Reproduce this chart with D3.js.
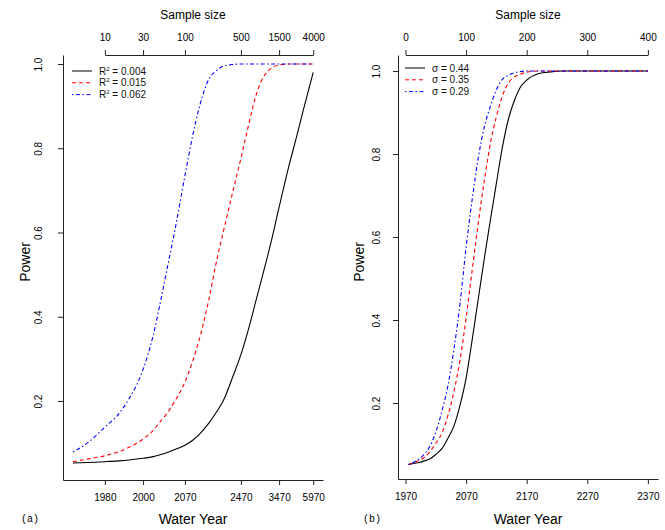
<!DOCTYPE html>
<html>
<head>
<meta charset="utf-8">
<script src="https://cdn.jsdelivr.net/npm/d3@7"></script>
<style>
  body { margin: 0; background: #fff; }
  svg { font-family: "Liberation Sans", Arial, sans-serif; }
</style>
</head>
<body>
<svg id="chart" width="665" height="530"></svg>
<script>
// panel (a): power against sample size (log axis) for three R^2 values
const sampleSizeA = [4, 6, 10, 15, 20, 30, 40, 50, 60, 75, 100, 125, 150, 200, 250, 300, 400, 500, 600, 800, 1000, 1200, 1500, 2000, 2500, 3000, 4000];
const powerR2_004 = [0.053, 0.054, 0.056, 0.058, 0.06, 0.064, 0.068, 0.073, 0.078, 0.085, 0.095, 0.107, 0.12, 0.148, 0.175, 0.2, 0.26, 0.31, 0.36, 0.45, 0.52, 0.58, 0.66, 0.76, 0.83, 0.89, 0.98];
const powerR2_015 = [0.056, 0.062, 0.07, 0.08, 0.09, 0.11, 0.13, 0.153, 0.171, 0.2, 0.245, 0.295, 0.344, 0.443, 0.535, 0.6, 0.7, 0.776, 0.842, 0.935, 0.975, 0.99, 0.998, 1, 1, 1, 1];
const powerR2_062 = [0.079, 0.1, 0.138, 0.17, 0.205, 0.275, 0.355, 0.44, 0.515, 0.606, 0.735, 0.83, 0.895, 0.965, 0.985, 0.995, 0.999, 1, 1, 1, 1, 1, 1, 1, 1, 1, 1];
const sampleTicksA = [10, 30, 100, 500, 1500, 4000];
const yearTicksA = ["1980", "2000", "2070", "2470", "3470", "5970"];
const legendA = ["0.004", "0.015", "0.062"];

// panel (b): power against sample size for three sigma values
const sampleSizeB = [5, 20, 30, 40, 50, 60, 70, 80, 90, 100, 110, 120, 130, 140, 150, 160, 170, 180, 190, 200, 220, 240, 260, 300, 350, 400];
const powerSigma044 = [0.052, 0.056, 0.06, 0.065, 0.076, 0.09, 0.115, 0.145, 0.195, 0.26, 0.352, 0.45, 0.548, 0.64, 0.73, 0.817, 0.885, 0.93, 0.962, 0.978, 0.994, 0.998, 1, 1, 1, 1];
const powerSigma035 = [0.052, 0.06, 0.068, 0.082, 0.103, 0.127, 0.17, 0.228, 0.304, 0.405, 0.52, 0.633, 0.735, 0.825, 0.89, 0.94, 0.972, 0.986, 0.993, 0.997, 1, 1, 1, 1, 1, 1];
const powerSigma029 = [0.052, 0.063, 0.075, 0.095, 0.13, 0.18, 0.242, 0.33, 0.44, 0.575, 0.69, 0.79, 0.865, 0.915, 0.955, 0.98, 0.99, 0.996, 0.999, 1, 1, 1, 1, 1, 1, 1];
const sampleTicksB = [0, 100, 200, 300, 400];
const yearTicksB = ["1970", "2070", "2170", "2270", "2370"];
const legendB = ["0.44", "0.35", "0.29"];

const powerTicks = [0.2, 0.4, 0.6, 0.8, 1.0];

const lineStyles = [
  { color: "#000", dash: null },
  { color: "#ff0000", dash: "4,3" },
  { color: "#0000ff", dash: "1.5,2.5,4,2.5" }
];

const svg = d3.select("#chart");

const styleAxis = (g) => {
  g.attr("font-family", null).attr("font-size", 10);
  g.selectAll("path, line").attr("stroke", "#222");
};

const drawPanel = (p) => {
  const g = svg.append("g");

  // bottom axis, full width (L-shaped box)
  g.append("g")
    .attr("transform", `translate(0,${p.y.range()[0]})`)
    .call(d3.axisBottom(p.x)
      .tickValues(p.ticks)
      .tickFormat((d, i) => p.yearLabels[i])
      .tickSize(5)
      .tickSizeOuter(0)
      .tickPadding(9))
    .call(styleAxis);

  // top axis, line only between first and last tick
  const xTop = p.x.copy()
    .domain(d3.extent(p.ticks))
    .range(d3.extent(p.ticks).map(p.x));

  g.append("g")
    .attr("transform", `translate(0,${p.y.range()[1]})`)
    .call(d3.axisTop(xTop)
      .tickValues(p.ticks)
      .tickFormat(d3.format("d"))
      .tickSize(5)
      .tickSizeOuter(0)
      .tickPadding(9))
    .call(styleAxis);

  // left axis with labels turned parallel to the axis
  g.append("g")
    .attr("transform", `translate(${p.x.range()[0]},0)`)
    .call(d3.axisLeft(p.y)
      .tickValues(powerTicks)
      .tickFormat(d3.format(".1f"))
      .tickSize(5)
      .tickSizeOuter(0))
    .call(styleAxis)
    .selectAll(".tick text")
    .attr("transform", "rotate(-90)")
    .attr("x", 0)
    .attr("y", -p.labelGap)
    .attr("dy", null)
    .attr("text-anchor", "middle");

  const line = d3.line()
    .x(d => p.x(d[0]))
    .y(d => p.y(d[1]))
    .curve(d3.curveMonotoneX);

  p.series.forEach((values, i) => {
    g.append("path")
      .datum(d3.zip(p.sampleSize, values))
      .attr("fill", "none")
      .attr("stroke", lineStyles[i].color)
      .attr("stroke-width", 1.1)
      .attr("stroke-dasharray", lineStyles[i].dash)
      .attr("d", line);
  });

  // legend
  const legend = g.append("g")
    .attr("transform", `translate(${p.legendX},${p.legendY})`)
    .attr("font-size", 10);

  p.legendLabels.forEach((label, i) => {
    const row = legend.append("g").attr("transform", `translate(0,${i * 11.8})`);
    row.append("line")
      .attr("x1", 0).attr("x2", 20)
      .attr("stroke", lineStyles[i].color)
      .attr("stroke-width", 1)
      .attr("stroke-dasharray", lineStyles[i].dash);
    const t = row.append("text").attr("x", 27).attr("y", 3.5).attr("fill", "#111");
    if (p.symbol === "R2") {
      t.append("tspan").text("R");
      t.append("tspan").attr("font-size", 6).attr("dy", -4).text("2");
      t.append("tspan").attr("dy", 4).text(" = " + label);
    } else {
      t.text("\u03c3 = " + label);
    }
  });

  // titles
  const cx = d3.mean(p.x.range());
  svg.append("text")
    .attr("x", cx).attr("y", 19)
    .attr("text-anchor", "middle")
    .attr("font-size", 12)
    .text("Sample size");

  svg.append("text")
    .attr("x", cx).attr("y", 524)
    .attr("text-anchor", "middle")
    .attr("font-size", 14)
    .text("Water Year");

  svg.append("text")
    .attr("transform", `translate(${p.powerX},262) rotate(-90)`)
    .attr("text-anchor", "middle")
    .attr("font-size", 14)
    .text("Power");

  svg.append("text")
    .attr("x", p.tagX).attr("y", 522)
    .attr("font-family", "Liberation Mono, monospace")
    .attr("font-size", 10)
    .text(p.tag);
};

drawPanel({
  x: d3.scaleLog().domain([3, 5300]).range([63, 323]),
  y: d3.scaleLinear().domain([0.0125, 1.0214]).range([480, 55]),
  sampleSize: sampleSizeA,
  series: [powerR2_004, powerR2_015, powerR2_062],
  ticks: sampleTicksA,
  yearLabels: yearTicksA,
  legendLabels: legendA,
  symbol: "R2",
  labelGap: 21,
  legendX: 72, legendY: 71,
  powerX: 30, tagX: 21, tag: "(a)"
});

drawPanel({
  x: d3.scaleLinear().domain([-12.4, 416.7]).range([398, 658]),
  y: d3.scaleLinear().domain([0.0169, 1.0386]).range([479, 55]),
  sampleSize: sampleSizeB,
  series: [powerSigma044, powerSigma035, powerSigma029],
  ticks: sampleTicksB,
  yearLabels: yearTicksB,
  legendLabels: legendB,
  symbol: "sigma",
  labelGap: 18,
  legendX: 405, legendY: 68,
  powerX: 364, tagX: 363, tag: "(b)"
});
</script>
</body>
</html>
